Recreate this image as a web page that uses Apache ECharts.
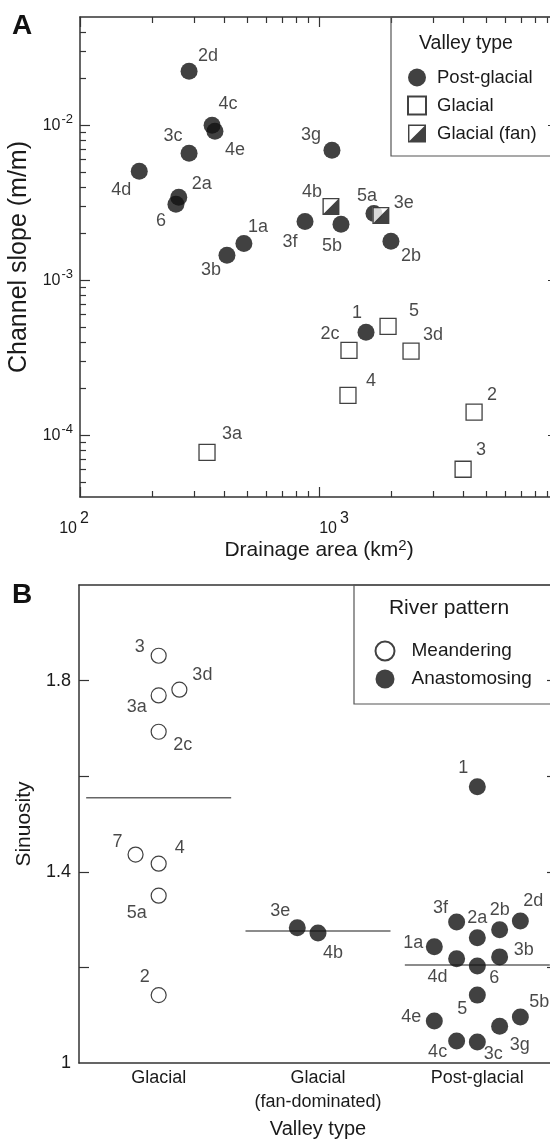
<!DOCTYPE html>
<html><head><meta charset="utf-8">
<script src="https://cdn.jsdelivr.net/npm/echarts@6/dist/echarts.min.js"></script>
<style>html,body{margin:0;padding:0;background:#fff}#c{width:550px;height:1142px}</style>
</head><body><div id="c"></div>
<script>
// ---------- Panel A data: [drainage area km2, channel slope m/m, id] ----------
const postGlacialA = [
  [286, 0.0223, '2d'], [357, 0.0100, '4c'], [367, 0.00915, '4e'], [286, 0.0066, '3c'],
  [177, 0.00505, '4d'], [259, 0.00343, '2a'], [252, 0.0031, '6'], [485, 0.00173, '1a'],
  [412, 0.00145, '3b'], [1133, 0.0069, '3g'], [874, 0.0024, '3f'], [1236, 0.0023, '5b'],
  [1698, 0.0027, '5a'], [2000, 0.00179, '2b'], [1573, 0.000462, '1']
];
const glacialA = [
  [1945, 0.000504, '5'], [1335, 0.000353, '2c'], [2427, 0.000349, '3d'], [1322, 0.000181, '4'],
  [4455, 0.000141, '2'], [4008, 0.0000604, '3'], [340, 0.0000776, '3a']
];
const glacialFanA = [
  [1122, 0.0030, '4b'], [1815, 0.00262, '3e']
];
// tick values
const xMajorTicksA = [100, 1000, 10000];
const xMinorTicksA = [200,300,400,500,600,700,800,900,2000,3000,4000,5000,6000,7000,8000,9000];
const xLabelsA = [100, 1000];
const yMajorTicksA = [1e-4, 1e-3, 1e-2];
const yMinorTicksA = [5e-5,6e-5,7e-5,8e-5,9e-5,2e-4,3e-4,4e-4,5e-4,6e-4,7e-4,8e-4,9e-4,
  2e-3,3e-3,4e-3,5e-3,6e-3,7e-3,8e-3,9e-3,2e-2,3e-2,4e-2];
const yLabelsA = [1e-4, 1e-3, 1e-2];

// ---------- Panel B data: [valley-type position, sinuosity, id] ----------
const valleyTypes = ['Glacial', 'Glacial\n(fan-dominated)', 'Post-glacial'];
const meanderingB = [
  [0, 1.852, '3'], [0.13, 1.781, '3d'], [0, 1.769, '3a'], [0, 1.693, '2c'],
  [-0.145, 1.436, '7'], [0, 1.417, '4'], [0, 1.350, '5a'], [0, 1.142, '2']
];
const anastomosingB = [
  [0.87, 1.283, '3e'], [1.0, 1.272, '4b'],
  [2.0, 1.578, '1'], [1.87, 1.295, '3f'], [2.0, 1.262, '2a'], [2.14, 1.279, '2b'], [2.27, 1.297, '2d'],
  [1.73, 1.243, '1a'], [1.87, 1.218, '4d'], [2.0, 1.203, '6'], [2.14, 1.222, '3b'], [2.0, 1.142, '5'],
  [1.73, 1.088, '4e'], [2.27, 1.096, '5b'], [2.14, 1.077, '3g'], [1.87, 1.046, '4c'], [2.0, 1.044, '3c']
];
const meanSinuosityB = [1.555, 1.276, 1.205];
const yTicksB = [1.2, 1.4, 1.6, 1.8];
const yLabelsB = [1, 1.4, 1.8];

// ---------- label placement (style) ----------
const labelOffA = {'2d':[19,-15],'4c':[16,-21],'4e':[20,19],'3c':[-16,-17],'4d':[-18,19],'2a':[23,-13],
  '6':[-15,17],'1a':[14,-16],'3b':[-16,15],'3g':[-21,-15],'3f':[-15,21],'5b':[-9,22],'5a':[-7,-17],
  '2b':[20,15],'1':[-9,-19],'5':[26,-15],'2c':[-19,-16],'3d':[22,-16],'4':[23,-14],'2':[18,-17],
  '3':[18,-19],'3a':[25,-18],'4b':[-19,-14],'3e':[23,-12]};
const labelOffB = {'3':[-19,-9],'3d':[23,-15],'3a':[-22,12],'2c':[24,13],'7':[-18,-13],'4':[21,-16],
  '5a':[-22,17],'2':[-14,-18],'3e':[-17,-17],'4b':[15,20],'1':[-14,-19],'3f':[-16,-14],'2a':[0,-20],
  '2b':[0,-20],'2d':[13,-20],'1a':[-21,-4],'4d':[-19,18],'6':[17,12],'3b':[24,-7],'5':[-15,14],
  '4e':[-23,-4],'5b':[19,-15],'3g':[20,19],'4c':[-19,11],'3c':[16,12]};

const FONT = 'Liberation Sans, Arial, Helvetica, sans-serif';
const INK = '#1a1a1a';
const AXC = '#333';
const fanPath = 'path://M0,0H10V10H0Z M0.8,0.8V9.2H9.2V0.8Z M9.2,0.8V9.2H0.8Z';

function mk(arr, offs) {
  return arr.map(d => ({ value: [d[0], d[1]], name: d[2], label: { offset: offs[d[2]] || [0, -18] } }));
}
const ptLabel = { show: true, position: 'inside', formatter: p => p.name, color: INK, fontSize: 18, fontFamily: FONT };

const lineStyle = { color: AXC, width: 1.5 };
function logAxis(extra) {
  return Object.assign({
    type: 'log', logBase: 10, splitLine: { show: false }, minorTick: { show: false },
    axisLine: { show: false, onZero: false, lineStyle },
    axisTick: { show: true, inside: true, lineStyle: { color: AXC, width: 1.2 } },
    axisLabel: { show: false }
  }, extra);
}
const supX = { fontSize: 16, fontFamily: FONT, color: INK };
const xAxes = [
  logAxis({ gridIndex: 0, min: 100, max: 10000, position: 'bottom',
    axisLine: { show: true, onZero: false, lineStyle },
    axisTick: { show: true, inside: true, length: 10, customValues: xMajorTicksA, lineStyle: { color: AXC, width: 1.2 } },
    axisLabel: { show: true, customValues: xLabelsA, margin: 14,
      formatter: v => Math.round(Math.log10(v)) === 2 ? '{b|10}{s2|2}' : '{c|10}{s|' + Math.round(Math.log10(v)) + '}',
      rich: {
        b: Object.assign({}, supX),
        c: Object.assign({ padding: [0, 0, 0, 30] }, supX),
        s: Object.assign({ padding: [0, 0, 20, 3] }, supX),
        s2: Object.assign({ padding: [0, 12, 20, 3] }, supX)
      } },
    name: 'Drainage area (km{s|2})', nameLocation: 'middle', nameGap: 41,
    nameTextStyle: { fontSize: 21, fontFamily: FONT, color: INK,
      rich: { s: { fontSize: 15, fontFamily: FONT, color: INK, padding: [0, 0, 10, 0] } } }
  }),
  logAxis({ gridIndex: 0, min: 100, max: 10000, position: 'bottom',
    axisTick: { show: true, inside: true, length: 6, customValues: xMinorTicksA, lineStyle: { color: AXC, width: 1.2 } } }),
  logAxis({ gridIndex: 0, min: 100, max: 10000, position: 'top',
    axisLine: { show: true, onZero: false, lineStyle },
    axisTick: { show: true, inside: true, length: 10, customValues: xMajorTicksA, lineStyle: { color: AXC, width: 1.2 } } }),
  logAxis({ gridIndex: 0, min: 100, max: 10000, position: 'top',
    axisTick: { show: true, inside: true, length: 6, customValues: xMinorTicksA, lineStyle: { color: AXC, width: 1.2 } } }),
  { type: 'value', gridIndex: 1, min: -0.5, max: 2.5, position: 'bottom', splitLine: { show: false },
    axisLine: { show: true, onZero: false, lineStyle }, axisTick: { show: false },
    axisLabel: { show: true, customValues: [0, 1, 2], formatter: v => valleyTypes[Math.round(v)],
      fontSize: 18, lineHeight: 24, margin: 3, color: INK, fontFamily: FONT },
    name: 'Valley type', nameLocation: 'middle', nameGap: 56,
    nameTextStyle: { fontSize: 20, fontFamily: FONT, color: INK } },
  { type: 'value', gridIndex: 1, min: -0.5, max: 2.5, position: 'top', splitLine: { show: false },
    axisLine: { show: true, onZero: false, lineStyle }, axisTick: { show: false }, axisLabel: { show: false } }
];
const yAxes = [
  logAxis({ gridIndex: 0, min: 4e-5, max: 5e-2, position: 'left',
    axisLine: { show: true, onZero: false, lineStyle },
    axisTick: { show: true, inside: true, length: 10, customValues: yMajorTicksA, lineStyle: { color: AXC, width: 1.2 } },
    axisLabel: { show: true, customValues: yLabelsA, margin: 7,
      formatter: v => '{n|10}{s|' + Math.round(Math.log10(v)) + '}',
      rich: { n: { fontSize: 16, fontFamily: FONT, color: INK },
              s: { fontSize: 13, fontFamily: FONT, color: INK, padding: [0, 0, 12, 1] } } },
    name: 'Channel slope (m/m)', nameLocation: 'middle', nameGap: 37,
    nameTextStyle: { fontSize: 25, fontFamily: FONT, color: INK } }),
  logAxis({ gridIndex: 0, min: 4e-5, max: 5e-2, position: 'left',
    axisTick: { show: true, inside: true, length: 6, customValues: yMinorTicksA, lineStyle: { color: AXC, width: 1.2 } } }),
  logAxis({ gridIndex: 0, min: 4e-5, max: 5e-2, position: 'right',
    axisLine: { show: true, onZero: false, lineStyle },
    axisTick: { show: true, inside: true, length: 10, customValues: yMajorTicksA, lineStyle: { color: AXC, width: 1.2 } } }),
  logAxis({ gridIndex: 0, min: 4e-5, max: 5e-2, position: 'right',
    axisTick: { show: true, inside: true, length: 6, customValues: yMinorTicksA, lineStyle: { color: AXC, width: 1.2 } } }),
  { type: 'value', gridIndex: 1, min: 1, max: 2, position: 'left', splitLine: { show: false },
    axisLine: { show: true, onZero: false, lineStyle },
    axisTick: { show: true, inside: true, length: 10, customValues: yTicksB, lineStyle: { color: AXC, width: 1.2 } },
    axisLabel: { show: true, customValues: yLabelsB, margin: 8, fontSize: 18, color: INK, fontFamily: FONT },
    name: 'Sinuosity', nameLocation: 'middle', nameGap: 44,
    nameTextStyle: { fontSize: 21, fontFamily: FONT, color: INK } },
  { type: 'value', gridIndex: 1, min: 1, max: 2, position: 'right', splitLine: { show: false },
    axisLine: { show: true, onZero: false, lineStyle },
    axisTick: { show: true, inside: true, length: 10, customValues: yTicksB, lineStyle: { color: AXC, width: 1.2 } },
    axisLabel: { show: false } }
];

const meanLines = meanSinuosityB.map((m, i) => ({
  type: 'line', xAxisIndex: 4, yAxisIndex: 4, name: 'mean' + i, silent: true, symbol: 'none',
  lineStyle: { color: '#666', width: 1.5 }, data: [[i - 0.455, m], [i + 0.455, m]], z: 1
}));

const option = {
  animation: false,
  backgroundColor: '#fff',
  textStyle: { fontFamily: FONT, color: INK },
  grid: [
    { left: 80, top: 17, width: 478, height: 480, outerBoundsMode: 'none', containLabel: false },
    { left: 79, top: 585, width: 478, height: 478, outerBoundsMode: 'none', containLabel: false }
  ],
  xAxis: xAxes,
  yAxis: yAxes,
  legend: [
    { data: ['Post-glacial', 'Glacial', 'Glacial (fan)'], orient: 'vertical', left: 407, top: 68,
      padding: 0, itemWidth: 18, itemHeight: 18, itemGap: 8.5, selectedMode: false,
      textStyle: { fontSize: 18.5, color: INK, fontFamily: FONT, padding: [0, 0, 0, 6] } },
    { data: ['Meandering', 'Anastomosing'], orient: 'vertical', left: 374.5, top: 640.5,
      padding: 0, itemWidth: 19, itemHeight: 19, itemGap: 8, selectedMode: false,
      textStyle: { fontSize: 19, color: INK, fontFamily: FONT, padding: [0, 0, 0, 12] } }
  ],
  graphic: [
    { type: 'text', left: 12, top: 12, style: { text: 'A', font: 'bold 28px ' + FONT, fill: '#111' } },
    { type: 'text', left: 12, top: 581, style: { text: 'B', font: 'bold 28px ' + FONT, fill: '#111' } },
    { type: 'rect', shape: { x: 391, y: 17, width: 170, height: 139 }, style: { fill: 'none', stroke: '#555', lineWidth: 1.2 }, z: 5 },
    { type: 'text', x: 466, y: 44, style: { text: 'Valley type', font: '19.5px ' + FONT, fill: INK, align: 'center', verticalAlign: 'middle' }, z: 5 },
    { type: 'rect', shape: { x: 354, y: 585, width: 210, height: 119 }, style: { fill: 'none', stroke: '#555', lineWidth: 1.2 }, z: 5 },
    { type: 'text', x: 449, y: 608, style: { text: 'River pattern', font: '21px ' + FONT, fill: INK, align: 'center', verticalAlign: 'middle' }, z: 5 }
  ],
  series: [
    { type: 'scatter', name: 'Post-glacial', xAxisIndex: 0, yAxisIndex: 0, symbol: 'circle', symbolSize: 17,
      itemStyle: { color: '#111' }, label: ptLabel, data: mk(postGlacialA, labelOffA) },
    { type: 'scatter', name: 'Glacial', xAxisIndex: 0, yAxisIndex: 0, symbol: 'rect', symbolSize: 16,
      itemStyle: { color: '#fff', borderColor: '#111', borderWidth: 1.3 }, label: ptLabel, data: mk(glacialA, labelOffA) },
    { type: 'scatter', name: 'fanBg', xAxisIndex: 0, yAxisIndex: 0, symbol: 'rect', symbolSize: 17, silent: true,
      itemStyle: { color: '#fff' }, data: glacialFanA.map(d => [d[0], d[1]]) },
    { type: 'scatter', name: 'Glacial (fan)', xAxisIndex: 0, yAxisIndex: 0, symbol: fanPath, symbolSize: 17,
      itemStyle: { color: '#111' }, label: ptLabel, data: mk(glacialFanA, labelOffA) },
    ...meanLines,
    { type: 'scatter', name: 'Meandering', xAxisIndex: 4, yAxisIndex: 4, symbol: 'circle', symbolSize: 15,
      itemStyle: { color: '#fff', borderColor: '#111', borderWidth: 1.2 }, label: ptLabel, data: mk(meanderingB, labelOffB) },
    { type: 'scatter', name: 'Anastomosing', xAxisIndex: 4, yAxisIndex: 4, symbol: 'circle', symbolSize: 17,
      itemStyle: { color: '#111' }, label: ptLabel, data: mk(anastomosingB, labelOffB) }
  ]
};
const chart = echarts.init(document.getElementById('c'));
chart.setOption(option);
</script>
</body></html>
